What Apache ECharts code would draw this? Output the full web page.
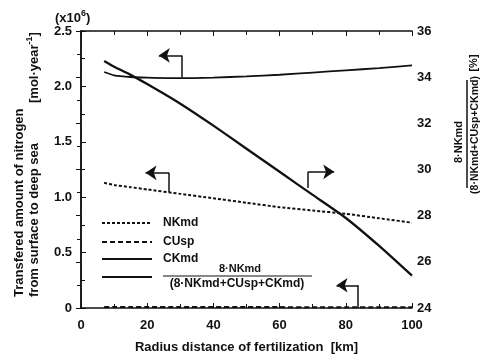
<!DOCTYPE html>
<html>
<head>
<meta charset="utf-8">
<script src="https://cdn.jsdelivr.net/npm/echarts@6/dist/echarts.min.js"></script>
<style>
  html, body { margin: 0; padding: 0; background: #fff; }
  #chart { width: 493px; height: 359px; }
</style>
</head>
<body>
<div id="chart"></div>
<script>
// radius distance of fertilization [km]
const km = [7, 10, 15, 20, 30, 40, 50, 60, 70, 80, 90, 100]
// left axis, x10^6 mol/year
const nkmd = [1.13, 1.11, 1.09, 1.07, 1.03, 0.99, 0.95, 0.91, 0.88, 0.85, 0.81, 0.77]
const cusp = [0.01, 0.01, 0.01, 0.01, 0.009, 0.009, 0.008, 0.008, 0.007, 0.007, 0.006, 0.006]
const ckmd = [2.13, 2.1, 2.085, 2.08, 2.075, 2.08, 2.09, 2.105, 2.125, 2.145, 2.165, 2.19]
// right axis, %
const ratio = [34.7, 34.45, 34.1, 33.7, 32.85, 31.9, 30.9, 29.9, 28.9, 27.9, 26.7, 25.4]

const xTicks = [0, 20, 40, 60, 80, 100]
const leftTicks = [0, 0.5, 1.0, 1.5, 2.0, 2.5]
const rightTicks = [24, 26, 28, 30, 32, 34, 36]

// arrows pointing each curve to its axis: [stem start, corner, tip]
const arrowCK = [[30.5, 2.08], [30.5, 2.28], [23.5, 2.28]]
const arrowNK = [[26.6, 1.045], [26.6, 1.22], [19.5, 1.22]]
const arrowCU = [[83.7, 0], [83.7, 0.205], [77.2, 0.205]]
const arrowRatio = [[68.6, 29.2], [68.6, 29.9], [76.5, 29.9]]

const FONT = 'Liberation Sans, Arial, sans-serif'
const INK = '#111'

const pair = (ys) => km.map((x, i) => [x, ys[i]])

function axisBase(extra) {
  return Object.assign({
    type: 'value',
    axisLine: { show: true, lineStyle: { color: INK, width: 1.5 } },
    axisTick: { show: true, inside: true, length: 5, lineStyle: { color: INK, width: 1 } },
    minorTick: { show: true, splitNumber: 2, length: 4, lineStyle: { color: INK, width: 1 } },
    splitLine: { show: false },
    axisLabel: { color: INK, fontSize: 13, fontWeight: 'bold', fontFamily: FONT }
  }, extra)
}

const chart = echarts.init(document.getElementById('chart'))

const lineSeries = (name, ys, style, yIdx) => ({
  name, type: 'line', data: pair(ys), yAxisIndex: yIdx,
  showSymbol: false, smooth: 0.2, lineStyle: Object.assign({ color: INK }, style), z: 3
})

function arrowSeries(pts, yIdx) {
  return [
    {
      type: 'lines', coordinateSystem: 'cartesian2d', yAxisIndex: yIdx,
      symbol: 'none', lineStyle: { color: INK, width: 1.5, opacity: 1 },
      data: [{ coords: [pts[0], pts[1]] }]
    },
    {
      type: 'lines', coordinateSystem: 'cartesian2d', yAxisIndex: yIdx,
      symbol: ['none', 'arrow'], symbolSize: [9, 11],
      lineStyle: { color: INK, width: 1.5, opacity: 1 },
      data: [{ coords: [pts[1], pts[2]] }]
    }
  ]
}

const txt = (x, y, text, o) => ({
  type: 'text', x, y, rotation: (o && o.rot) || 0,
  style: Object.assign({
    text, fill: INK, font: 'bold 13px ' + FONT,
    textAlign: 'left', textVerticalAlign: 'middle',
    rich: { s: { fontSize: 9, fontWeight: 'bold', fontFamily: FONT, verticalAlign: 'top', padding: [0, 0, 8, 0] } }
  }, (o && o.style) || {})
})
const seg = (x1, y1, x2, y2, style) => ({
  type: 'line', shape: { x1, y1, x2, y2 },
  style: Object.assign({ stroke: INK, lineWidth: 2 }, style)
})

const option = {
  animation: false,
  backgroundColor: '#fff',
  grid: { left: 81, right: 81, top: 31, bottom: 48 },
  xAxis: [
    axisBase({
      min: xTicks[0], max: xTicks[xTicks.length - 1], interval: 20, position: 'bottom',
      axisLabel: { color: INK, fontSize: 13, fontWeight: 'bold', fontFamily: FONT, margin: 11 },
      name: 'Radius distance of fertilization  [km]', nameLocation: 'middle', nameGap: 33,
      nameTextStyle: { color: INK, fontSize: 13, fontWeight: 'bold', fontFamily: FONT }
    }),
    axisBase({
      min: xTicks[0], max: xTicks[xTicks.length - 1], interval: 20, position: 'top',
      axisLabel: { show: false }
    })
  ],
  yAxis: [
    axisBase({
      min: leftTicks[0], max: leftTicks[leftTicks.length - 1], interval: 0.5, position: 'left',
      axisLabel: {
        color: INK, fontSize: 13, fontWeight: 'bold', fontFamily: FONT, margin: 9,
        formatter: (v) => (v === 0 ? '0' : v.toFixed(1))
      }
    }),
    axisBase({
      min: rightTicks[0], max: rightTicks[rightTicks.length - 1], interval: 2, position: 'right',
      axisLabel: { color: INK, fontSize: 13, fontWeight: 'bold', fontFamily: FONT, margin: 5 }
    })
  ],
  series: [
    lineSeries('NKmd', nkmd, { width: 2, type: [3, 2] }, 0),
    lineSeries('CUsp', cusp, { width: 2, type: [5, 3] }, 0),
    lineSeries('CKmd', ckmd, { width: 1.8 }, 0),
    lineSeries('ratio', ratio, { width: 2.3 }, 1),
    ...arrowSeries(arrowCK, 0),
    ...arrowSeries(arrowNK, 0),
    ...arrowSeries(arrowCU, 0),
    ...arrowSeries(arrowRatio, 1)
  ],
  graphic: [
    txt(55, 18, '(x10{s|6})'),
    txt(19, 297, 'Transfered amount of nitrogen', { rot: Math.PI / 2 }),
    txt(34, 297, 'from surface to deep sea', { rot: Math.PI / 2 }),
    txt(34, 103, '[mol·year{s|-1}]', { rot: Math.PI / 2 }),
    // right axis title: fraction
    txt(459, 142, '8·NKmd', { rot: Math.PI / 2, style: { textAlign: 'center', font: 'bold 11px ' + FONT } }),
    seg(467, 80, 467, 188, { lineWidth: 1.5 }),
    txt(475, 135, '(8·NKmd+CUsp+CKmd)', { rot: Math.PI / 2, style: { textAlign: 'center', font: 'bold 10.5px ' + FONT } }),
    txt(474, 63, '[%]', { rot: Math.PI / 2, style: { textAlign: 'center', font: 'bold 11px ' + FONT } }),
    // legend
    seg(102, 223, 152, 223, { lineDash: [3, 2] }),
    txt(163, 223, 'NKmd', { style: { font: 'bold 12px ' + FONT } }),
    seg(102, 242, 152, 242, { lineDash: [5, 3] }),
    txt(163, 242, 'CUsp', { style: { font: 'bold 12px ' + FONT } }),
    seg(102, 259, 152, 259, { lineWidth: 1.8 }),
    txt(163, 259, 'CKmd', { style: { font: 'bold 12px ' + FONT } }),
    seg(102, 277, 152, 277, { lineWidth: 2.2 }),
    txt(240, 269, '8·NKmd', { style: { textAlign: 'center', font: 'bold 11px ' + FONT } }),
    seg(163, 276, 312, 276, { lineWidth: 1.2 }),
    txt(237, 284, '(8·NKmd+CUsp+CKmd)', { style: { textAlign: 'center', font: 'bold 12px ' + FONT } })
  ]
}

chart.setOption(option)
</script>
</body>
</html>
